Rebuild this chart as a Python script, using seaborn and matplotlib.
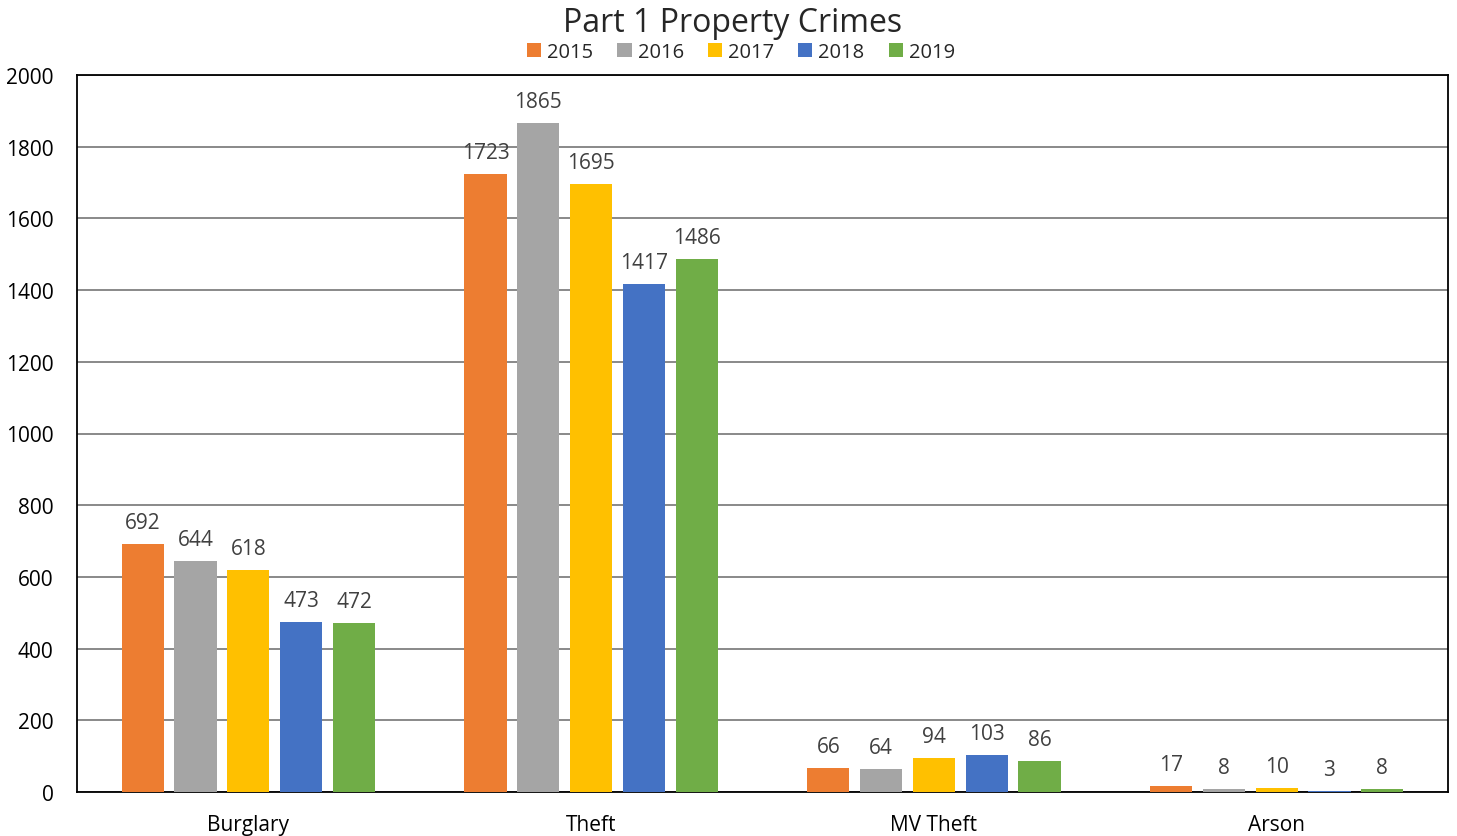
import pandas as pd
import seaborn as sns
import matplotlib.pyplot as plt

crimes = ["Burglary", "Theft", "MV Theft", "Arson"]
years = ["2015", "2016", "2017", "2018", "2019"]
counts_2015 = [692, 1723, 66, 17]
counts_2016 = [644, 1865, 64, 8]
counts_2017 = [618, 1695, 94, 10]
counts_2018 = [473, 1417, 103, 3]
counts_2019 = [472, 1486, 86, 8]
colors = ["#ED7D31", "#A5A5A5", "#FFC000", "#4472C4", "#70AD47"]

series = [counts_2015, counts_2016, counts_2017, counts_2018, counts_2019]
rows = []
for year, vals in zip(years, series):
    for crime, v in zip(crimes, vals):
        rows.append({"crime": crime, "year": year, "count": v})
df = pd.DataFrame(rows)

sns.set_style("white")
plt.rcParams["font.family"] = ["Open Sans", "DejaVu Sans"]

fig = plt.figure(figsize=(14.57, 8.37), dpi=100)
ax = fig.add_axes([77 / 1457, 1 - 793 / 837, (1448 - 77) / 1457, (793 - 76) / 837])

sns.barplot(data=df, x="crime", y="count", hue="year", order=crimes,
            hue_order=years, palette=colors, width=0.77, gap=0.2,
            saturation=1, linewidth=0, ax=ax, zorder=3)

for cont in ax.containers:
    ax.bar_label(cont, padding=8, fontsize=15, color="#404040")

ax.set_ylim(0, 2000)
ax.set_xlim(-0.5, 3.5)
ax.set_yticks(range(0, 2001, 200))
ax.yaxis.grid(True, color="#808080", linewidth=1.3, zorder=0)
ax.set_axisbelow(True)
ax.set_xlabel("")
ax.set_ylabel("")
ax.tick_params(axis="both", labelsize=15, colors="black", length=0)
ax.tick_params(axis="y", pad=17)
ax.tick_params(axis="x", pad=16)
for sp in ax.spines.values():
    sp.set_visible(True)
    sp.set_color("black")
    sp.set_linewidth(1.3)

ax.legend(loc="center", bbox_to_anchor=(741 / 1457, 1 - 53 / 837),
          bbox_transform=fig.transFigure, ncol=5,
          frameon=False, fontsize=14.5, handlelength=0.7, handleheight=0.7,
          handletextpad=0.3, columnspacing=1.2, borderaxespad=0)
fig.text(733 / 1457, 1 - 23 / 837, "Part 1 Property Crimes", ha="center", va="center",
         fontsize=23)

plt.savefig("out.png", dpi=100)
